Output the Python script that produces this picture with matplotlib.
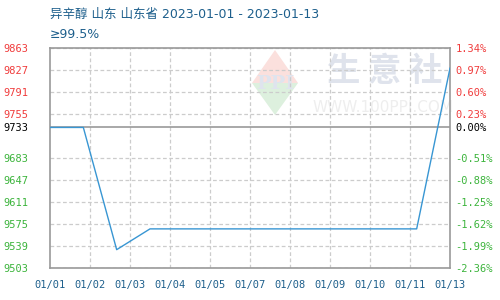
import matplotlib
matplotlib.use("Agg")
import matplotlib.pyplot as plt
from matplotlib.patches import Polygon
import numpy as np

plt.rcParams['font.family'] = ['Noto Sans CJK SC', 'DejaVu Sans']

title_line1 = "异辛醇 山东 山东省 2023-01-01 - 2023-01-13"
title_line2 = "≥99.5%"

days = list(range(13))
prices = [9733, 9733, 9533, 9567, 9567, 9567, 9567, 9567, 9567, 9567, 9567, 9567, 9830]
base_price = 9733

x_labels = ["01/01", "01/02", "01/03", "01/04", "01/05", "01/07",
            "01/08", "01/09", "01/10", "01/11", "01/13"]
y_ticks = [9863, 9827, 9791, 9755, 9733, 9683, 9647, 9611, 9575, 9539, 9503]
pct_labels = ["1.34%", "0.97%", "0.60%", "0.23%", "0.00%", "-0.51%",
              "-0.88%", "-1.25%", "-1.62%", "-1.99%", "-2.36%"]

RED = "#f03c3c"
GREEN = "#3cb43c"
BLUE_TXT = "#1d5f8c"
GRID = "#cccccc"
SPINE = "#999999"

fig = plt.figure(figsize=(5, 3), dpi=100)
ax = fig.add_axes([0.1, 0.1067, 0.8, 0.7333])

# watermark
wm = fig.add_axes([0, 0, 1, 1], zorder=0)
wm.set_xlim(0, 500); wm.set_ylim(300, 0); wm.axis('off')
cx, cy, hw, top, bot = 275, 83, 23, 50, 115
wm.add_patch(Polygon([[cx - hw, cy], [cx, top], [cx + hw, cy]], closed=True,
                     facecolor="#fbe0dd", edgecolor='none'))
wm.add_patch(Polygon([[cx - hw, cy], [cx, bot], [cx + hw, cy]], closed=True,
                     facecolor="#ddf0de", edgecolor='none'))
wm.text(cx, cy + 1, "PPI", fontsize=14, color="#dfe4ee", ha='center', va='center',
        family='DejaVu Serif', fontweight='bold')
wm.text(385, 72, "生 意 社", fontsize=24, color="#dfe3ec", ha='center', va='center',
        fontweight='bold')
wm.text(383, 107, "WWW.100PPI.COM", fontsize=11, color="#eeeeee", ha='center', va='center',
        family='DejaVu Sans')
ax.set_zorder(1)
ax.patch.set_alpha(0)

ax.set_xlim(0, 12)
ax.set_ylim(9503, 9863)

xtick_pos = np.linspace(0, 12, len(x_labels))
ax.set_xticks(xtick_pos)
ax.set_xticklabels(x_labels, family='DejaVu Sans Mono', fontsize=7.5, color=BLUE_TXT)
ax.set_yticks(y_ticks)
ax.set_yticklabels([str(v) for v in y_ticks], family='DejaVu Sans Mono', fontsize=7.5)
ax.tick_params(axis='both', length=0)
ax.tick_params(axis='y', pad=15.5)
ax.tick_params(axis='x', pad=9)
for lab, v in zip(ax.get_yticklabels(), y_ticks):
    lab.set_color(RED if v > base_price else (GREEN if v < base_price else "black"))

for v in y_ticks:
    if v == base_price:
        ax.axhline(v, color=SPINE, lw=1.2, zorder=2)
    else:
        ax.axhline(v, color=GRID, lw=0.9, ls=(0, (3, 2)), zorder=1)
for xp in xtick_pos[1:-1]:
    ax.axvline(xp, color=GRID, lw=0.9, ls=(0, (3, 2)), zorder=1)

for s in ax.spines.values():
    s.set_color(SPINE)
    s.set_linewidth(1.2)

ax.plot(days, prices, color="#3896d3", lw=1.0, zorder=3)

ax2 = ax.twinx()
ax2.set_ylim(ax.get_ylim())
ax2.set_yticks(y_ticks)
ax2.set_yticklabels(pct_labels, family='DejaVu Sans Mono', fontsize=7.5)
ax2.tick_params(axis='y', length=0, pad=4)
for lab, v in zip(ax2.get_yticklabels(), y_ticks):
    lab.set_color(RED if v > base_price else (GREEN if v < base_price else "black"))
for s in ax2.spines.values():
    s.set_visible(False)

fig.text(0.1, 1 - 14 / 300, title_line1, fontsize=9, color=BLUE_TXT, ha='left', va='center',
         family=['DejaVu Sans', 'Noto Sans CJK SC'])
fig.text(0.1, 1 - 35 / 300, title_line2, fontsize=9, color=BLUE_TXT, ha='left', va='center',
         family='DejaVu Sans')

fig.savefig("out.png", dpi=100)
